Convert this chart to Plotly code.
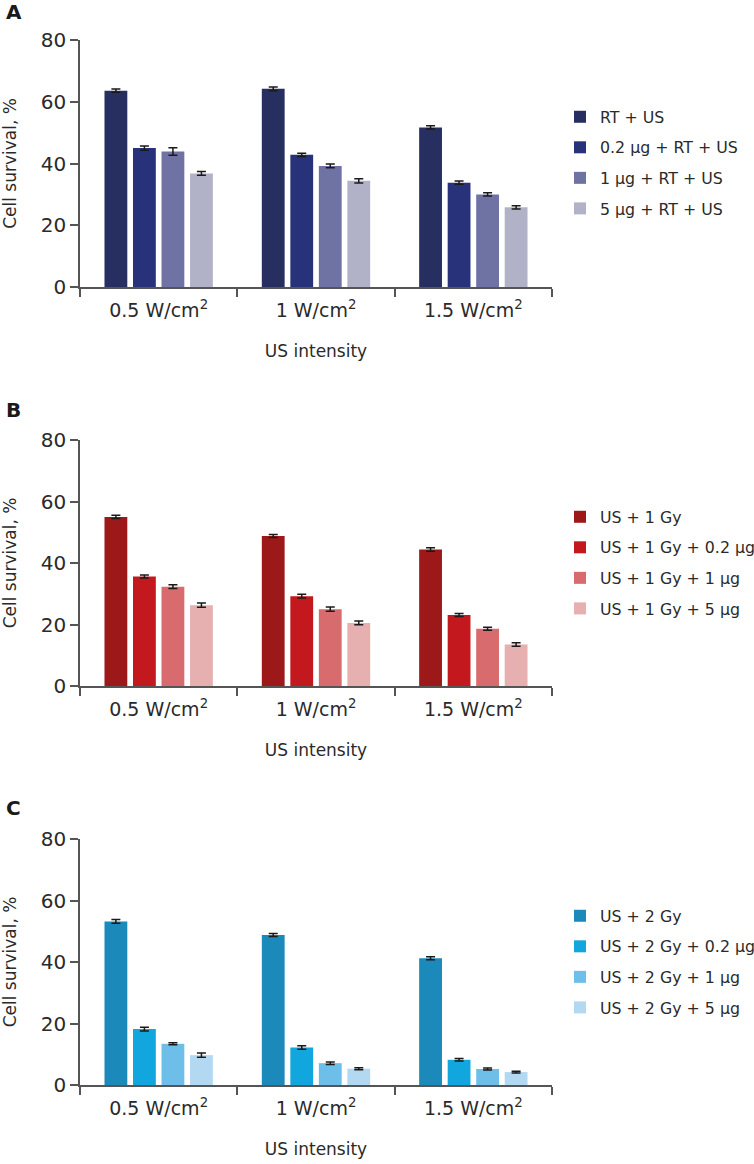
import plotly.graph_objects as go
from plotly.subplots import make_subplots

categories = ["0.5 W/cm<sup>2</sup>", "1 W/cm<sup>2</sup>", "1.5 W/cm<sup>2</sup>"]

# Panel A
names_a = ["RT + US", "0.2 μg + RT + US", "1 μg + RT + US", "5 μg + RT + US"]
vals_a = [[63.6, 64.2, 51.7], [45.0, 42.8, 33.8], [43.9, 39.2, 30.0], [36.8, 34.4, 25.8]]
errs_a = [[0.5, 0.6, 0.5], [0.7, 0.5, 0.5], [1.2, 0.6, 0.5], [0.6, 0.7, 0.5]]
colors_a = ["#272e60", "#27327a", "#6f73a3", "#b1b2c8"]

# Panel B
names_b = ["US + 1 Gy", "US + 1 Gy + 0.2 μg", "US + 1 Gy + 1 μg", "US + 1 Gy + 5 μg"]
vals_b = [[55.0, 48.8, 44.4], [35.6, 29.2, 23.1], [32.3, 25.0, 18.6], [26.3, 20.5, 13.5]]
errs_b = [[0.5, 0.5, 0.6], [0.5, 0.6, 0.5], [0.6, 0.7, 0.5], [0.7, 0.6, 0.6]]
colors_b = ["#9d1818", "#c2181e", "#d76b6d", "#e6afb0"]

# Panel C
names_c = ["US + 2 Gy", "US + 2 Gy + 0.2 μg", "US + 2 Gy + 1 μg", "US + 2 Gy + 5 μg"]
vals_c = [[53.2, 48.8, 41.2], [18.2, 12.2, 8.2], [13.4, 7.1, 5.2], [9.7, 5.3, 4.2]]
errs_c = [[0.6, 0.5, 0.5], [0.6, 0.6, 0.4], [0.3, 0.4, 0.3], [0.7, 0.3, 0.3]]
colors_c = ["#1b89b9", "#12a6de", "#6dbee9", "#b3d8f1"]

panel_labels = ["A", "B", "C"]

FONT = "DejaVu Sans, Arial, sans-serif"
TEXT = "#2a2a2a"
AXIS = "#555555"
W, H = 754, 1164

fig = make_subplots(rows=3, cols=1)

panels = [(names_a, vals_a, errs_a, colors_a),
          (names_b, vals_b, errs_b, colors_b),
          (names_c, vals_c, errs_c, colors_c)]

ypix = [(40, 287), (440, 686), (839, 1085)]
legend_keys = ["legend", "legend2", "legend3"]

for p, (names, vals, errs, cols) in enumerate(panels):
    for i in range(4):
        fig.add_trace(go.Bar(
            x=categories, y=vals[i], name=names[i],
            marker=dict(color=cols[i], line=dict(width=0)),
            error_y=dict(type="data", array=errs[i], color="#1a1a1a",
                         thickness=1.5, width=4.5),
            legend=legend_keys[p], legendgroup=f"g{p}{i}",
        ), row=p + 1, col=1)

layout = dict(
    width=W, height=H,
    margin=dict(l=80, r=202, t=0, b=0, autoexpand=False),
    paper_bgcolor="white", plot_bgcolor="white",
    barmode="group", bargap=0.275, bargroupgap=0.2,
    font=dict(family=FONT, color=TEXT, size=17),
    showlegend=True,
)

legend_y_px = [100, 500, 899]
for p in range(3):
    y0, y1 = ypix[p]
    sfx = "" if p == 0 else str(p + 1)
    layout["yaxis" + sfx] = dict(
        domain=[1 - y1 / H, 1 - y0 / H], range=[0, 80], tickvals=[0, 20, 40, 60, 80],
        automargin=False,
        showgrid=False, zeroline=False, showline=True, linecolor=AXIS, linewidth=1.5,
        ticks="outside", ticklen=8, tickwidth=1.5, tickcolor=AXIS,
        tickfont=dict(size=20, color=TEXT),
        title=dict(text="Cell survival, %", font=dict(size=17, color=TEXT), standoff=20),
    )
    layout["xaxis" + sfx] = dict(
        domain=[0, 1], type="category", tickson="boundaries", automargin=False,
        showgrid=False, zeroline=False, showline=True, linecolor=AXIS, linewidth=1.5,
        ticks="outside", ticklen=8, tickwidth=1.5, tickcolor=AXIS,
        tickfont=dict(size=19, color=TEXT), ticklabelstandoff=5,
        title=dict(text="US intensity", font=dict(size=17, color=TEXT), standoff=26),
    )
    layout[legend_keys[p]] = dict(
        xref="container", yref="container",
        x=560 / W, xanchor="left", y=1 - legend_y_px[p] / H, yanchor="top",
        font=dict(size=15.8, color=TEXT), tracegroupgap=7, bgcolor="rgba(0,0,0,0)",
    )

fig.update_layout(**layout)

label_px = [12, 410, 808]
for p in range(3):
    fig.add_annotation(
        text=f"<b>{panel_labels[p]}</b>", xref="paper", yref="paper",
        x=-76 / 472, xanchor="left", y=1 - label_px[p] / H, yanchor="middle",
        showarrow=False, font=dict(size=20, color="#1a1a1a", family=FONT),
    )

fig.write_html("out.html", config={"displayModeBar": False},
               post_script="document.body.style.margin='0';")
